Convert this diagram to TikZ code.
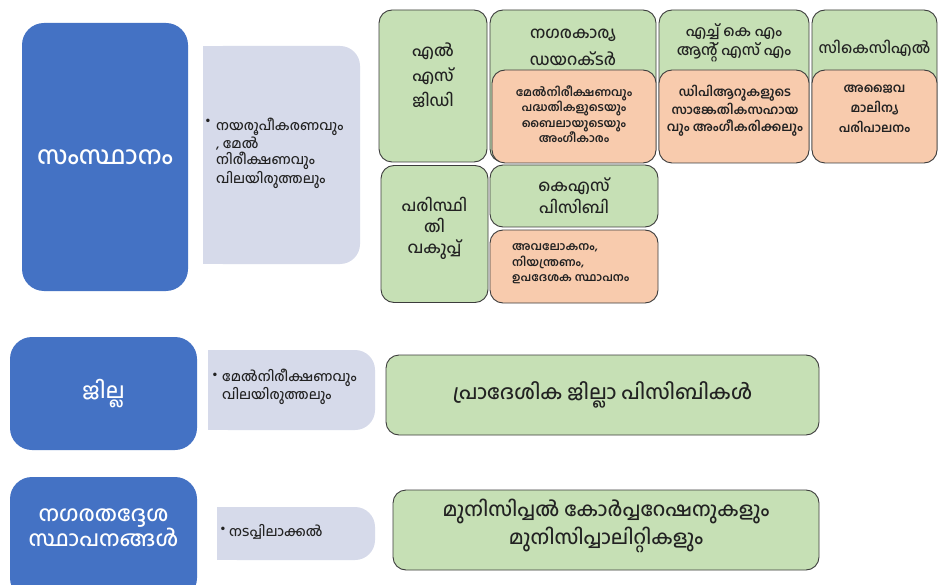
\documentclass[tikz,border=0pt]{standalone}
\usepackage{fontspec}
\setmainfont[Script=Malayalam, UprightFont=* Medium, BoldFont=* SemiBold]{Hind Kochi}
\definecolor{bluebox}{HTML}{4472C4}
\definecolor{graybox}{HTML}{D6DAEA}
\definecolor{greenbox}{HTML}{C6E0B5}
\definecolor{orangebox}{HTML}{F8CBAD}
\definecolor{edgecol}{HTML}{3C3C3C}
\definecolor{txt}{HTML}{222222}
\begin{document}
\begin{tikzpicture}[x=1pt,y=-1pt,
  boxbase/.style={rectangle, draw=edgecol, line width=0.9pt, rounded corners=13pt, inner sep=0pt},
  greenb/.style={boxbase, fill=greenbox},
  orangeb/.style={boxbase, fill=orangebox},
  blueb/.style={rectangle, fill=bluebox, rounded corners=22pt, inner sep=0pt},
  grayb/.style={rectangle, fill=graybox, rounded corners=20pt, inner sep=0pt},
  bluet/.style={text=white, align=center, inner sep=0pt},
  greent/.style={text=txt, align=center, inner sep=0pt, font=\fontsize{16}{25}\selectfont},
  oranget/.style={text=txt, align=center, inner sep=0pt, font=\fontsize{11.5}{15.5}\selectfont\bfseries},
  grayt/.style={text=txt, align=left, inner sep=0pt, font=\fontsize{13.5}{16.5}\selectfont},
  bullett/.style={text=txt, inner sep=0pt, font=\fontsize{13}{13}\selectfont},
]
\useasboundingbox (0,0) rectangle (941,585);
\fill[white] (0,0) rectangle (941,585);

% ---- Row 1: State ----
\node[blueb, minimum width=166pt, minimum height=268pt] (blue1) at (105,157) {};
\node[bluet, font=\fontsize{25}{28}\selectfont] (blue1t) at (blue1.center) {സംസ്ഥാനം};

\node[grayb, minimum width=157pt, minimum height=218pt] (gray1) at (281.5,155) {};
\fill[graybox] (gray1.north west) rectangle (gray1.south);
\node[bullett] (gray1b) at (208,122) {•};
\node[grayt, anchor=north west] (gray1t) at (216,118) {നയരൂപീകരണവും\\, മേൽ\\നിരീക്ഷണവും\\വിലയിരുത്തലും};

\node[greenb, minimum width=108pt, minimum height=152pt] (lsgd) at (433,86) {};
\node[greent] (lsgdt) at (433,75) {എൽ\\എസ്\\ജിഡി};

\node[greenb, minimum width=166pt, minimum height=152pt] (nkd) at (573,86) {};
\node[greent, font=\fontsize{16}{27}\selectfont] (nkdt) at (573,47) {നഗരകാര്യ\\ഡയറക്ടർ};
\node[orangeb, minimum width=164pt, minimum height=93pt] (nkdo) at (574,116.5) {};
\node[oranget] (nkdot) at (574,114) {മേൽനിരീക്ഷണവും\\പദ്ധതികളുടെയും\\ബൈലായുടെയും\\അംഗീകാരം};

\node[greenb, minimum width=150pt, minimum height=152pt] (hkm) at (734,86) {};
\node[greent, font=\fontsize{15}{19}\selectfont] (hkmt) at (734,43) {എച്ച് കെ എം\\ആന്റ് എസ് എം};
\node[orangeb, minimum width=150pt, minimum height=93pt] (hkmo) at (734,116.5) {};
\node[oranget, font=\fontsize{12.5}{17.5}\selectfont\bfseries] (hkmot) at (735,111) {ഡിപിആറുകളുടെ\\സാങ്കേതികസഹായ\\വും അംഗീകരിക്കലും};

\node[greenb, minimum width=125pt, minimum height=152pt] (ckcl) at (874.5,86) {};
\node[greent, font=\fontsize{15}{19}\selectfont] (ckclt) at (874.5,48) {സികെസിഎൽ};
\node[orangeb, minimum width=125pt, minimum height=93pt] (ckclo) at (874.5,116.5) {};
\node[oranget, font=\fontsize{12.5}{20}\selectfont\bfseries] (ckclot) at (874.5,109) {അജൈവ\\മാലിന്യ\\പരിപാലനം};

\node[greenb, minimum width=107pt, minimum height=137pt] (env) at (434.5,234) {};
\node[greent, font=\fontsize{16}{21}\selectfont] (envt) at (434.5,228) {പരിസ്ഥി\\തി\\വകുപ്പ്};

\node[greenb, minimum width=168pt, minimum height=62pt] (kspcb) at (574,196) {};
\node[greent, font=\fontsize{16}{22}\selectfont] (kspcbt) at (574,196) {കെഎസ്\\പിസിബി};
\node[orangeb, minimum width=168pt, minimum height=73pt] (kspcbo) at (574,266.5) {};
\node[oranget, align=left, anchor=west] (kspcbot) at (512,264) {അവലോകനം,\\നിയന്ത്രണം,\\ഉപദേശക സ്ഥാപനം};

% ---- Row 2: District ----
\node[blueb, minimum width=187pt, minimum height=113pt] (blue2) at (103.5,393.5) {};
\node[bluet, font=\fontsize{21.5}{24}\selectfont] (blue2t) at (blue2.center) {ജില്ല};

\node[grayb, minimum width=167pt, minimum height=80pt] (gray2) at (291.5,390) {};
\fill[graybox] (gray2.north west) rectangle (gray2.south);
\node[bullett] (gray2b) at (215,376) {•};
\node[grayt, anchor=west] (gray2t) at (222,387) {മേൽനിരീക്ഷണവും\\വിലയിരുത്തലും};

\node[greenb, minimum width=433pt, minimum height=80pt] (dist) at (602.5,395) {};
\node[greent, font=\fontsize{20}{24}\selectfont] (distt) at (dist.center) {പ്രാദേശിക ജില്ലാ പിസിബികൾ};

% ---- Row 3: Urban local bodies ----
\node[blueb, minimum width=187pt, minimum height=123pt] (blue3) at (103.5,538.5) {};
\node[bluet, font=\fontsize{21.5}{24}\selectfont] (blue3t) at (103.5,528) {നഗരതദ്ദേശ\\സ്ഥാപനങ്ങൾ};

\node[grayb, minimum width=158pt, minimum height=53pt] (gray3) at (296,533.5) {};
\fill[graybox] (gray3.north west) rectangle (gray3.south);
\node[bullett] (gray3b) at (223,530) {•};
\node[grayt, anchor=west] (gray3t) at (229,532) {നടപ്പിലാക്കൽ};

\node[greenb, minimum width=426pt, minimum height=80pt] (muni) at (606,530) {};
\node[greent, font=\fontsize{19.5}{28}\selectfont] (munit) at (606,526) {മുനിസിപ്പൽ കോർപ്പറേഷനുകളും\\മുനിസിപ്പാലിറ്റികളും};
\end{tikzpicture}
\end{document}
